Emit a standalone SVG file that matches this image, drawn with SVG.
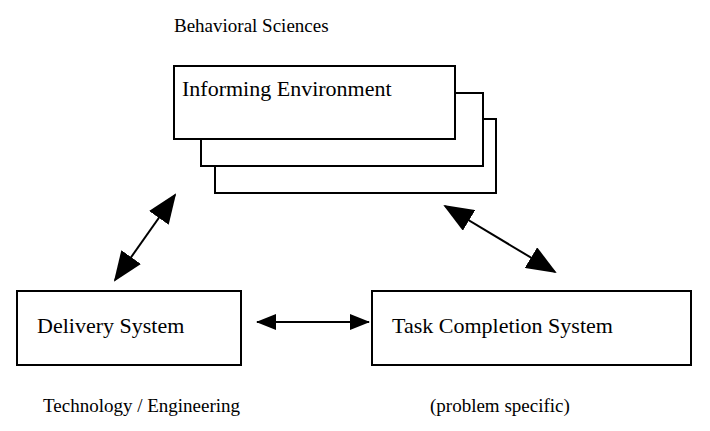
<svg xmlns="http://www.w3.org/2000/svg" width="710" height="431" viewBox="0 0 710 431">
<defs>
<style>
.b{fill:#fff;stroke:#000;stroke-width:2}
.t{font-family:"Liberation Serif",serif;fill:#000}
.c{stroke:#000;stroke-width:2;fill:none}
</style>
<marker id="big" markerUnits="userSpaceOnUse" markerWidth="30" markerHeight="24" refX="28" refY="12" orient="auto-start-reverse" viewBox="0 0 30 24"><path d="M0,0 L30,12 L0,24 Z" fill="#000"/></marker>
<marker id="sm" markerUnits="userSpaceOnUse" markerWidth="20" markerHeight="16" refX="19" refY="8" orient="auto-start-reverse" viewBox="0 0 20 16"><path d="M0,0 L20,8 L0,16 Z" fill="#000"/></marker>
</defs>
<rect width="710" height="431" fill="#fff"/>
<text class="t" x="174" y="32" font-size="19">Behavioral Sciences</text>
<g id="informing">
<rect class="b" x="215" y="119" width="281" height="74"/>
<rect class="b" x="201" y="93" width="282" height="73"/>
<rect class="b" x="174" y="66" width="281" height="73"/>
<text class="t" x="182" y="96" font-size="22">Informing Environment</text>
</g>
<g id="delivery">
<rect class="b" x="17" y="291" width="224" height="74"/>
<text class="t" x="37" y="333" font-size="22">Delivery System</text>
</g>
<g id="task">
<rect class="b" x="372" y="291" width="319" height="74"/>
<text class="t" x="392" y="333" font-size="22">Task Completion System</text>
</g>
<text class="t" x="43" y="412" font-size="19">Technology / Engineering</text>
<text class="t" x="430" y="412" font-size="19">(problem specific)</text>
<g id="connectors">
<line class="c" x1="175" y1="195" x2="115" y2="280" marker-start="url(#big)" marker-end="url(#big)"/>
<line class="c" x1="445" y1="206" x2="555" y2="272" marker-start="url(#big)" marker-end="url(#big)"/>
<line class="c" x1="257" y1="322" x2="369" y2="322" marker-start="url(#sm)" marker-end="url(#sm)"/>
</g>
</svg>
